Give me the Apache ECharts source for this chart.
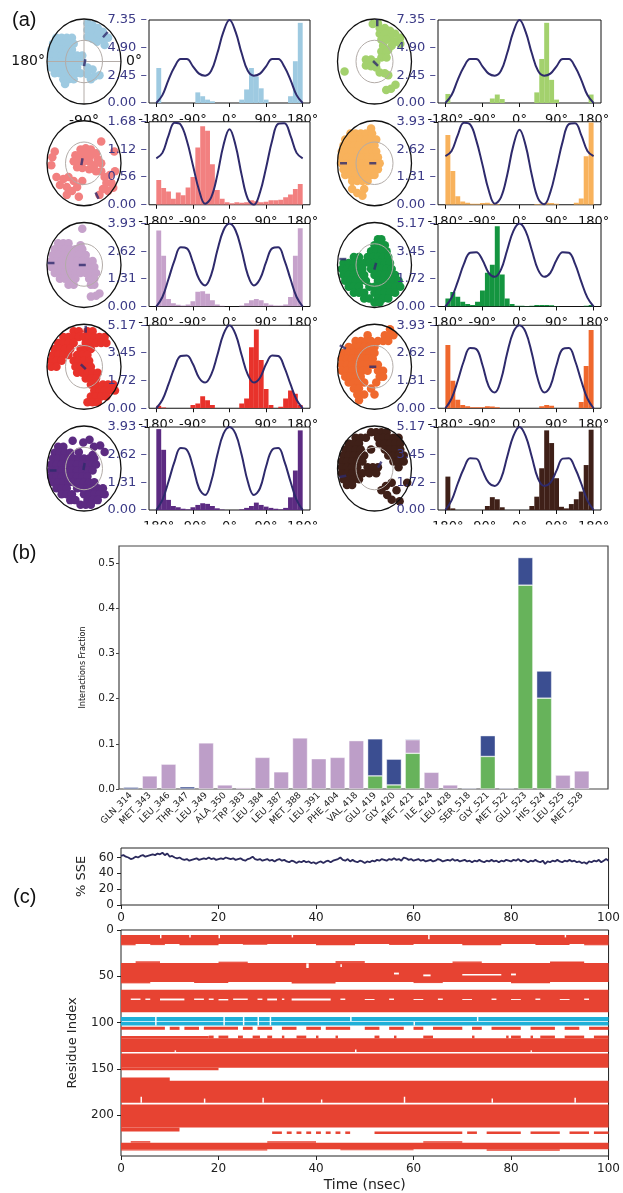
<!DOCTYPE html>
<html>
<head>
<meta charset="utf-8">
<title>Torsions, contacts and SSE</title>
<script src="https://cdn.jsdelivr.net/npm/echarts@6.0.0/dist/echarts.min.js"></script>
<style>
  html, body { margin: 0; padding: 0; background: #fff; }
  #main { width: 623px; height: 1193px; }
</style>
</head>
<body>
<div id="main"></div>
<script>
// ---------------- (a) ligand torsion profiles ----------------
// histogram bins, 12 degrees wide, left edges
var binStarts = [-180, -168, -156, -144, -132, -120, -108, -96, -84, -72, -60, -48, -36, -24, -12,
                 0, 12, 24, 36, 48, 60, 72, 84, 96, 108, 120, 132, 144, 156, 168];
var xTickDeg = [-180, -90, 0, 90, 180];
var histColors = ['#9ecae1', '#a3d16d', '#f28080', '#f8b25c', '#c6a2cb',
                  '#149540', '#e8322b', '#ef682d', '#5c2b82', '#3f2018'];
var histMax = [7.35, 7.35, 1.68, 3.93, 3.93, 5.17, 5.17, 3.93, 3.93, 5.17];

var hist1 = [3.1, 0, 0, 0, 0, 0, 0, 0, 0.94, 0.6, 0.3, 0.15, 0, 0, 0, 0, 0, 0.3, 1.2, 3.1, 2.35, 1.3, 0.3, 0, 0, 0, 0, 0.6, 3.7, 7.1];
var hist2 = [0.8, 0, 0, 0, 0, 0, 0, 0, 0, 0.4, 0.75, 0.35, 0, 0, 0, 0, 0, 0, 0.94, 3.9, 7.1, 2.05, 0.3, 0, 0, 0, 0, 0, 0, 0.75];
var hist3 = [0.5, 0.34, 0.27, 0.12, 0.25, 0.19, 0.35, 0.56, 1.16, 1.59, 1.5, 0.82, 0.3, 0.12, 0.05, 0.03, 0.05, 0.04, 0.05, 0.09, 0.07, 0.05, 0.06, 0.09, 0.09, 0.1, 0.15, 0.21, 0.32, 0.42];
var hist4 = [3.3, 1.6, 0.4, 0.15, 0.1, 0.05, 0.05, 0.08, 0.1, 0.05, 0.03, 0, 0, 0, 0, 0, 0, 0, 0.03, 0.05, 0.1, 0.08, 0.05, 0, 0, 0, 0.1, 0.3, 2.3, 3.9];
var hist5 = [3.6, 2.4, 0.35, 0.15, 0.08, 0.05, 0.1, 0.25, 0.7, 0.72, 0.6, 0.3, 0.1, 0.03, 0, 0, 0, 0.05, 0.15, 0.3, 0.35, 0.3, 0.15, 0.08, 0.05, 0.05, 0.1, 0.45, 2.4, 3.7];
var hist6 = [0.5, 0.9, 0.6, 0.3, 0.15, 0.1, 0.3, 1.0, 2.1, 2.6, 5.0, 2.0, 0.5, 0.15, 0.05, 0.05, 0.03, 0.05, 0.1, 0.1, 0.1, 0.08, 0.03, 0, 0, 0, 0, 0, 0.05, 0.1];
var hist7 = [0.15, 0.05, 0, 0, 0, 0, 0, 0.2, 0.3, 0.75, 0.5, 0.2, 0, 0, 0, 0, 0, 0.3, 0.6, 3.8, 4.9, 3.0, 1.2, 0.2, 0, 0.1, 0.6, 1.1, 0.9, 0.2];
var hist8 = [3.0, 1.3, 0.4, 0.15, 0.1, 0.05, 0.05, 0.05, 0.1, 0.08, 0.05, 0, 0, 0, 0, 0, 0, 0, 0, 0.1, 0.15, 0.12, 0, 0, 0, 0, 0, 0.3, 2.0, 3.7];
var hist9 = [3.83, 2.85, 0.48, 0.19, 0.13, 0.06, 0.03, 0.13, 0.24, 0.32, 0.29, 0.19, 0.08, 0.02, 0, 0, 0, 0.03, 0.1, 0.19, 0.35, 0.24, 0.16, 0.1, 0.06, 0.03, 0.1, 0.6, 1.87, 3.77];
var hist10 = [2.08, 0.1, 0, 0, 0, 0, 0, 0, 0.25, 0.8, 0.67, 0.17, 0, 0, 0, 0, 0, 0.25, 0.83, 2.6, 4.96, 4.17, 1.98, 0.2, 0.1, 0.37, 0.67, 1.15, 2.8, 5.0];

// potential curves, read every 15 degrees
var potAngles = [-180, -165, -150, -135, -120, -105, -90, -75, -60, -45, -30, -15, 0,
                 15, 30, 45, 60, 75, 90, 105, 120, 135, 150, 165, 180];
var potA = [0, 0.7, 2.05, 3.2, 3.9, 3.9, 3.25, 2.6, 2.42, 2.85, 4.4, 6.3, 7.35, 6.3, 4.4, 2.85, 2.42, 2.6, 3.25, 3.9, 3.9, 3.2, 2.05, 0.7, 0];
var pot3 = [0.94, 1.05, 1.4, 1.66, 1.62, 1.3, 0.8, 0.3, 0.02, 0.15, 0.6, 1.2, 1.53, 1.2, 0.6, 0.12, 0, 0.25, 0.75, 1.3, 1.64, 1.65, 1.4, 1.05, 0.94];
var pot4 = [2.3, 2.55, 3.3, 3.88, 3.8, 3.05, 1.9, 0.7, 0.05, 0.35, 1.4, 2.8, 3.55, 2.8, 1.4, 0.3, 0.02, 0.6, 1.75, 3.0, 3.82, 3.86, 3.3, 2.55, 2.3];
var pot5 = [0, 0.45, 1.3, 2.2, 2.8, 2.75, 2.1, 1.3, 1.0, 1.5, 2.65, 3.6, 3.93, 3.6, 2.65, 1.5, 1.0, 1.3, 2.1, 2.75, 2.8, 2.2, 1.3, 0.45, 0];
var pot6 = [0, 0.55, 1.55, 2.65, 3.35, 3.38, 2.9, 2.1, 1.85, 2.3, 3.5, 4.7, 5.17, 4.7, 3.5, 2.3, 1.85, 2.1, 2.9, 3.38, 3.35, 2.65, 1.55, 0.55, 0];
var pot7 = [0, 0.53, 1.5, 2.55, 3.25, 3.28, 2.75, 1.9, 1.6, 2.1, 3.3, 4.6, 5.17, 4.6, 3.3, 2.1, 1.6, 1.9, 2.75, 3.28, 3.25, 2.55, 1.5, 0.53, 0];
var pot8 = [0, 0.46, 1.3, 2.25, 2.85, 2.8, 2.05, 1.05, 0.75, 1.35, 2.6, 3.6, 3.93, 3.6, 2.6, 1.35, 0.75, 1.05, 2.05, 2.8, 2.85, 2.25, 1.3, 0.46, 0];
var pot9 = [0, 0.48, 1.35, 2.3, 2.93, 2.85, 2.06, 1.03, 0.71, 1.35, 2.6, 3.6, 3.93, 3.6, 2.6, 1.35, 0.71, 1.03, 2.06, 2.85, 2.93, 2.3, 1.35, 0.48, 0];
var pot10 = [0, 0.6, 1.65, 2.6, 3.22, 3.2, 2.45, 1.7, 1.5, 1.95, 3.3, 4.6, 5.17, 4.6, 3.3, 1.95, 1.5, 1.7, 2.45, 3.2, 3.22, 2.6, 1.65, 0.6, 0];

// radial dials: rows of [y, x, x, ...] in the unit dial (x right, y up)
var dial1 = [[0.97, 0.1], [0.92, 0.25], [0.85, 0.4], [0.8, 0.1], [0.75, 0.25, 0.55], [0.68, 0.4], [0.62, 0.1],
  [0.6, -0.8, -0.65, -0.5, -0.35, 0.7], [0.57, 0.25], [0.55, 0.55], [0.5, 0.38],
  [0.45, -0.9, -0.75, -0.6, -0.45, -0.3], [0.42, 0.6], [0.3, -0.95, -0.8, -0.65, -0.5, -0.35],
  [0.15, -0.95, -0.8, -0.65, -0.5, -0.35, -0.2, -0.05], [0, -0.95, -0.8, -0.65, -0.5, -0.35, -0.2, -0.05],
  [-0.15, -0.95, -0.8, -0.65, -0.5, -0.35, -0.2, 0.1], [-0.2, 0.25], [-0.3, -0.85, -0.7, -0.55, -0.4, -0.25, -0.1],
  [-0.32, 0.1], [-0.38, 0.3], [-0.35, 0.45], [-0.45, -0.6, -0.45, -0.3, 0.2], [-0.57, -0.55]];
var dial2 = [[0.97, 0.1], [0.95, -0.05], [0.85, 0.15, 0.3], [0.78, 0.45], [0.7, 0.15, 0.3, 0.6], [0.6, 0.45, 0.75],
  [0.55, 0.2, 0.35], [0.5, 0.6], [0.45, 0.75], [0.4, 0.25, 0.5], [0.3, 0.4], [0.25, 0.2, 0.35], [0.1, 0.2, 0.35],
  [0.05, -0.25, -0.1], [-0.02, 0.05], [-0.1, -0.25], [-0.12, -0.1], [-0.15, 0.05], [-0.28, 0.15], [-0.3, 0.3],
  [-0.35, 0.4], [-0.25, -0.87], [-0.59, 0.61], [-0.69, 0.48], [-0.72, 0.34]];
var dial3 = [[0.55, 0.5], [0.38, 0.05], [0.35, -0.1, 0.2], [0.3, 0.88, -0.85], [0.25, 0.35], [0.2, -0.25, -0.1, 0.05, 0.2],
  [0.15, -0.92], [0.1, 0.4], [0.05, -0.3, -0.15, 0, 0.15], [0, 0.5], [-0.05, -0.95, 0.3], [-0.1, -0.2], [-0.12, -0.05],
  [-0.15, 0.15], [-0.2, 0.35, 0.5, 0.9], [-0.3, 0.75], [-0.35, -0.8, -0.45, 0.6], [-0.4, -0.6], [-0.45, -0.3, -0.05],
  [-0.5, 0.65, 0.8], [-0.55, -0.7], [-0.6, -0.5, -0.2], [-0.62, 0.85], [-0.65, 0.55], [-0.7, -0.35, 0.7],
  [-0.8, -0.5, 0.45], [-0.85, -0.15]];
var dial4 = [[0.88, -0.1], [0.75, -0.7, -0.55, -0.4, -0.25, -0.07], [0.6, -0.85, -0.7, -0.55, -0.4, -0.25, -0.1, 0.05],
  [0.45, -0.9, -0.75, -0.6, -0.45, -0.3, -0.15, 0], [0.3, -0.95, -0.8, -0.65, -0.5, -0.35, -0.2, -0.05, 0.05],
  [0.15, -0.95, -0.8, -0.65, -0.5, -0.35, -0.2, -0.05, 0.1], [0, -0.95, -0.8, -0.65, -0.5, -0.35, -0.2, -0.05, 0.1, 0.15],
  [-0.15, -0.9, -0.75, -0.6, -0.45, -0.3, -0.15, 0, 0.1], [-0.3, -0.85, -0.7, -0.55, -0.4, -0.25, -0.1, 0],
  [-0.45, -0.65, -0.5, -0.35, -0.2], [-0.65, -0.65, -0.3], [-0.75, -0.5], [-0.82, -0.35]];
var dial5 = [[0.92, -0.05], [0.55, -0.75, -0.6, -0.45], [0.5, -0.1], [0.4, -0.85, -0.7, -0.55, -0.4, -0.25, -0.05],
  [0.25, -0.9, -0.75, -0.6, -0.45, -0.3, -0.15, 0.05], [0.1, -0.95, -0.8, -0.65, -0.5, -0.35, -0.2, -0.05, 0.1, 0.25],
  [-0.05, -0.95, -0.8, -0.65, -0.5, -0.35, -0.2, -0.05, 0.1, 0.25, 0.3], [-0.2, -0.85, -0.7, -0.55, -0.4, -0.25, -0.1, 0.05, 0.2, 0.35],
  [-0.35, -0.7, -0.55, -0.4, -0.25, 0.15, 0.3], [-0.5, -0.45, -0.3, 0.2, 0.3], [-0.72, 0.45], [-0.78, 0.35], [-0.8, 0.2]];
var dial6 = [[0.65, 0.1, 0.2], [0.5, 0, 0.15, 0.3], [0.35, -0.1, 0.05, 0.2, 0.35], [0.2, -0.6, -0.45, -0.2, -0.05, 0.1, 0.25, 0.4],
  [0.05, -0.9, -0.75, -0.6, -0.45, -0.3, -0.15, 0, 0.15, 0.3, 0.45], [-0.1, -0.95, -0.8, -0.65, -0.5, -0.35, -0.1, 0.05, 0.2, 0.35, 0.5],
  [-0.25, -0.9, -0.75, -0.6, -0.45, -0.3, 0, 0.15, 0.3, 0.45, 0.6], [-0.4, -0.85, -0.7, -0.55, -0.4, -0.25, 0.1, 0.25, 0.4, 0.55, 0.7],
  [-0.55, -0.75, -0.6, -0.45, -0.15, 0, 0.15, 0.3, 0.45, 0.6, 0.75], [-0.7, -0.6, -0.45, -0.3, 0, 0.15, 0.3, 0.45, 0.6],
  [-0.85, -0.3, -0.15, 0.1, 0.25, 0.4], [-0.95, 0, 0.15]];
var dial7 = [[0.9, -0.3, -0.15, 0.1, 0.25], [0.75, -0.6, -0.45, -0.3, -0.15, 0, 0.15, 0.3, 0.45, 0.6],
  [0.6, -0.75, -0.6, -0.45, -0.3, 0.05, 0.2, 0.35, 0.5, 0.65], [0.45, -0.85, -0.7, -0.55, -0.4, -0.1, 0.05, 0.2],
  [0.3, -0.9, -0.75, -0.6, -0.45, -0.2, -0.05, 0.1], [0.15, -0.95, -0.8, -0.65, -0.3, -0.15, 0, 0.15],
  [0, -0.95, -0.8, -0.25, -0.1, 0.05, 0.2], [-0.15, -0.2, -0.05, 0.1, 0.25, 0.4], [-0.3, 0.05, 0.2, 0.35],
  [-0.45, 0.2, 0.35, 0.55, 0.7, 0.85], [-0.6, 0.3, 0.45, 0.6, 0.75, 0.9], [-0.75, 0.2, 0.35, 0.5, 0.65], [-0.9, 0.1, 0.25, 0.4]];
var dial8 = [[0.95, 0.45], [0.8, -0.2, 0.3, 0.45, 0.55], [0.65, -0.55, -0.4, -0.25, -0.1, 0.1, 0.25, 0.4],
  [0.5, -0.75, -0.6, -0.45, -0.3, -0.15, 0], [0.35, -0.9, -0.75, -0.6, -0.45, -0.3, -0.15, 0],
  [0.2, -0.95, -0.8, -0.65, -0.5, -0.35, -0.2, -0.05], [0.05, -0.95, -0.8, -0.65, -0.5, -0.35, -0.2, -0.05, 0.1],
  [-0.1, -0.95, -0.8, -0.65, -0.5, -0.35, -0.2, 0.1, 0.25], [-0.25, -0.85, -0.7, -0.55, -0.4, 0.15, 0.25],
  [-0.4, -0.75, -0.6, -0.45, -0.3, 0.05], [-0.55, -0.6, -0.45, -0.1], [-0.7, -0.5, -0.3, 0], [-0.85, -0.45]];
var dial9 = [[0.73, 0.16], [0.7, -0.33], [0.66, -0.02], [0.58, 0.47], [0.55, -0.75, -0.6, 0.29], [0.42, -0.15, 0.6],
  [0.4, -0.85, -0.7, -0.55, -0.4], [0.34, 0.25], [0.25, -0.9, -0.75, -0.6, -0.45, -0.3, -0.15, 0, 0.15, 0.3],
  [0.1, -0.95, -0.8, -0.65, -0.5, -0.35, -0.2, -0.05, 0.1, 0.25, 0.35], [-0.05, -0.95, -0.8, -0.65, -0.5, -0.35, -0.2, -0.05, 0.1, 0.25],
  [-0.2, -0.95, -0.8, -0.65, -0.5, -0.35, -0.2, -0.05, 0.1], [-0.35, -0.9, -0.75, -0.6, -0.45, -0.3, -0.15, 0, 0.15, 0.3],
  [-0.5, -0.8, -0.65, -0.5, -0.2, -0.05, 0.1, 0.25, 0.4, 0.55], [-0.65, -0.65, -0.5, -0.35, 0, 0.15, 0.3, 0.45, 0.6],
  [-0.8, -0.4, -0.25, 0.1, 0.25, 0.4], [-0.92, -0.1, 0.05, 0.2]];
var dial10 = [[0.92, -0.1, 0.05, 0.2, 0.35], [0.78, -0.55, -0.4, -0.25, 0.1, 0.25, 0.4, 0.55, 0.7],
  [0.63, -0.75, -0.6, -0.45, 0.15, 0.3, 0.45, 0.6, 0.75], [0.48, -0.85, -0.7, -0.55, -0.4, -0.1, 0.3, 0.45, 0.6, 0.75],
  [0.33, -0.9, -0.75, -0.6, -0.45, -0.3, 0.4, 0.55, 0.7, 0.85], [0.18, -0.95, -0.8, -0.65, -0.5, -0.35, 0.55, 0.7, 0.85],
  [0.03, -0.95, -0.8, -0.65, -0.5, -0.2, -0.05, 0.1, 0.7], [-0.12, -0.95, -0.8, -0.65, -0.5, -0.35, -0.15, 0.05],
  [-0.27, -0.9, -0.75, -0.6, -0.45], [-0.42, -0.8, -0.65], [-0.36, 0.5, 0.95], [-0.44, 0.33], [-0.55, 0.2, 0.64],
  [-0.67, 0.37], [-0.79, 0.5], [-0.83, 0.73]];
// start / end markers: [x, y, rotation]
var dialMarks = [
  [[0.02, -0.03, 80], [0.62, 0.68, 48]],
  [[0.03, -0.05, 135], [0.08, 0.98, 90]],
  [[-0.06, 0.04, 80], [0.38, -0.82, -65]],
  [[-0.05, 0, 0], [-0.9, 0, 0]],
  [[-0.05, 0, 0], [-0.96, 0.05, 0]],
  [[0.02, -0.03, 75], [-0.92, 0.15, 0]],
  [[-0.02, 0, -45], [0.05, 0.95, 90]],
  [[-0.05, 0, 0], [-0.92, 0.5, 150]],
  [[0, 0.05, 80], [-0.9, -0.05, 0]],
  [[0.15, 0.1, 60], [-0.92, -0.2, 10]]
];

// ---------------- (b) protein-ligand contacts ----------------
var residues = ['GLN_314', 'MET_343', 'LEU_346', 'THR_347', 'LEU_349', 'ALA_350', 'TRP_383', 'LEU_384', 'LEU_387',
  'MET_388', 'LEU_391', 'PHE_404', 'VAL_418', 'GLU_419', 'GLY_420', 'MET_421', 'ILE_424', 'LEU_428', 'SER_518',
  'GLY_521', 'MET_522', 'GLU_523', 'HIS_524', 'LEU_525', 'MET_528'];
var hbonds =       [0, 0, 0, 0, 0, 0, 0, 0, 0, 0, 0, 0, 0, 0.029, 0.009, 0.079, 0, 0, 0, 0.072, 0, 0.451, 0.201, 0, 0];
var hydrophobic =  [0, 0.029, 0.055, 0, 0.102, 0.009, 0.003, 0.070, 0.038, 0.113, 0.067, 0.070, 0.107, 0, 0, 0.030, 0.037, 0.009, 0, 0, 0, 0, 0, 0.031, 0.040];
var waterBridges = [0.004, 0, 0, 0.005, 0, 0, 0, 0, 0, 0, 0, 0, 0, 0.082, 0.057, 0.002, 0, 0, 0.002, 0.046, 0.002, 0.061, 0.060, 0.001, 0];
var fracTicks = [0, 0.1, 0.2, 0.3, 0.4, 0.5];

// ---------------- (c) secondary structure ----------------
var sseTicks = [0, 20, 40, 60];
var residueTicks = [0, 50, 100, 150, 200];
// % SSE every 0.5 ns
var ssePct = [
  62, 63, 61, 60, 58, 59, 61, 60, 62, 63, 61, 62, 63, 64, 63, 65, 64, 66, 63, 65,
  61, 62, 60, 59, 60, 58, 57, 58, 56, 57, 58, 59, 57, 58, 59, 58, 60, 58, 59, 57,
  58, 59, 58, 60, 59, 58, 59, 57, 58, 59, 57, 56, 58, 59, 61, 58, 57, 58, 56, 57,
  58, 56, 57, 55, 57, 58, 56, 57, 55, 54, 56, 55, 53, 55, 54, 56, 54, 55, 53, 54,
  52, 54, 55, 53, 55, 56, 54, 56, 57, 58, 60, 57, 56, 58, 55, 57, 55, 54, 56, 55,
  53, 55, 54, 56, 55, 57, 56, 58, 57, 56, 58, 57, 59, 57, 58, 56, 60, 59, 57, 58,
  56, 57, 58, 56, 57, 55, 56, 57, 55, 56, 58, 57, 55, 56, 57, 56, 58, 56, 57, 55,
  56, 57, 55, 56, 54, 56, 55, 57, 55, 54, 56, 55, 57, 55, 56, 54, 56, 55, 57, 56,
  55, 57, 56, 58, 55, 57, 56, 54, 56, 55, 57, 55, 54, 56, 52, 55, 54, 56, 55, 57,
  55, 54, 56, 55, 57, 55, 56, 54, 55, 53, 54, 52, 55, 54, 56, 55, 57, 54, 56, 58,
  56];
// [t0, t1, residue0, residue1]
var helixRects = [
  [0, 100, 5.3, 15.2], [0, 3, 15.2, 16.5], [6, 9, 15.2, 16.3], [12, 20, 15.2, 16.4], [25, 30, 15.2, 16], [40, 48, 15.2, 16.5],
  [55, 60, 15.2, 16.2], [70, 78, 15.2, 16.4], [85, 92, 15.2, 16.3], [95, 100, 15.2, 16.5],
  [0, 100, 35.5, 56.2], [0, 100, 64.5, 88.8],
  [0, 18, 114.5, 117], [0, 100, 117, 131.6], [0, 100, 133.4, 148.6], [0, 20, 148.6, 151.5],
  [0, 10, 159.2, 163], [0, 100, 162.8, 186.6], [0, 100, 188.3, 213.2], [0, 12, 213.2, 217.5],
  [0, 100, 229.6, 236.6],
  // flickering rows
  [0, 9, 104.5, 107.8], [10, 12, 104.5, 107.8], [13, 16, 104.5, 107.8], [17, 24, 104.5, 107.8], [25, 27, 104.5, 107.8],
  [28, 31, 104.5, 107.8], [33, 36, 104.5, 107.8], [38, 41, 104.5, 107.8], [42, 47, 104.5, 107.8], [50, 53, 104.5, 107.8],
  [55, 58, 104.5, 107.8], [60, 62, 104.5, 107.8], [64, 70, 104.5, 107.8], [72, 74, 104.5, 107.8], [76, 82, 104.5, 107.8],
  [84, 89, 104.5, 107.8], [91, 94, 104.5, 107.8], [96, 100, 104.5, 107.8],
  [18, 19, 114, 117], [20, 22, 114, 117], [24, 25, 114, 117], [27, 28.5, 114, 117], [30, 31, 114, 117], [33, 33.5, 114, 117],
  [36, 38, 114, 117], [40, 40.5, 114, 117], [44, 44.5, 114, 117], [52, 53, 114, 117], [56, 56.5, 114, 117], [62, 64, 114, 117],
  [72, 72.5, 114, 117], [79, 79.5, 114, 117], [80, 82, 114, 117], [84, 84.5, 114, 117], [86, 89, 114, 117], [91, 95, 114, 117],
  [97, 100, 114, 117],
  [31, 33, 217.5, 220.2], [34, 35, 217.5, 220.2], [36, 37, 217.5, 220.2], [38, 39, 217.5, 220.2], [40, 41, 217.5, 220.2],
  [42, 43, 217.5, 220.2], [44, 45, 217.5, 220.2], [46, 47, 217.5, 220.2], [52, 70, 217.5, 220.2], [71, 73, 217.5, 220.2],
  [75, 82, 217.5, 220.2], [84, 90, 217.5, 220.2], [92, 96, 217.5, 220.2], [97, 100, 217.5, 220.2],
  // ragged edges
  [3, 8, 33.8, 35.5], [20, 26, 34.2, 35.5], [44, 50, 33.6, 35.5], [68, 74, 34, 35.5], [88, 95, 33.9, 35.5],
  [0, 6, 56.2, 57.6], [15, 22, 56.2, 57.2], [35, 44, 56.2, 57.8], [60, 66, 56.2, 57.3], [80, 88, 56.2, 57.6],
  [0, 30, 236.6, 238], [45, 60, 236.6, 237.8], [75, 90, 236.6, 238.2], [2, 6, 228, 229.6], [30, 40, 228.2, 229.6], [62, 70, 228, 229.6]
];
var strandRects = [[0, 100, 94, 98.3], [0, 100, 99.1, 103]];
var whiteGaps = [
  [2, 4, 74, 75.5], [5, 6, 74, 75.5], [8, 13, 74, 76], [15, 17, 74, 75.5], [18, 19, 74, 75.5], [20, 22, 74.5, 76],
  [23, 26, 74, 75.5], [28, 29, 74, 75.5], [30, 32, 74, 76], [33, 33.5, 74, 75.5], [35, 43, 74, 76.2], [45, 46, 74, 75.5],
  [50, 52, 74.5, 75.5], [55, 56, 74, 75.5], [60, 62, 74.5, 75.5], [65, 66, 74, 75.5], [70, 72, 74.5, 75.5], [76, 77, 74, 75.5],
  [80, 82, 74.5, 75.5], [85, 86, 74, 75.5], [90, 92, 74.5, 75.5], [95, 96, 74, 75.5],
  [56, 57, 46, 48], [62, 63.5, 48, 50], [70, 78, 47.5, 49.2], [80, 81, 47, 49], [38, 38.5, 36, 41], [45, 45.3, 37, 40],
  [8, 8.3, 5.3, 9], [14, 14.3, 5.3, 8], [20, 20.3, 5.3, 9], [35, 35.3, 5.3, 8], [63, 63.3, 5.3, 10], [91, 91.3, 5.3, 8],
  [7, 7.3, 94, 103], [21, 21.3, 94, 103], [25, 25.3, 94, 103], [28, 28.3, 94, 103], [30.5, 30.8, 94, 103], [47, 47.3, 94, 98.3],
  [60, 60.3, 99, 103], [73, 73.3, 94, 98.3],
  [4, 4.3, 180, 186.6], [17, 17.3, 182, 186.6], [29, 29.3, 181, 186.6], [41, 41.3, 183, 186.6], [58, 58.3, 180, 186.6],
  [76, 76.3, 182, 186.6], [93, 93.3, 181, 186.6], [11, 11.3, 130, 131.6], [48, 48.3, 129, 131.6], [84, 84.3, 130, 131.6]
];

// ---------------- build ----------------
var hists = [hist1, hist2, hist3, hist4, hist5, hist6, hist7, hist8, hist9, hist10];
var pots = [potA, potA, pot3, pot4, pot5, pot6, pot7, pot8, pot9, pot10];
var dials = [dial1, dial2, dial3, dial4, dial5, dial6, dial7, dial8, dial9, dial10];

var FONT = 'DejaVu Sans';
var NAVY = '#2e2a6c';
var grids = [], xAxes = [], yAxes = [], series = [], graphics = [];

function addPanel(grid, xa, ya) {
  grids.push(grid);
  var gi = grids.length - 1;
  xa.gridIndex = gi; ya.gridIndex = gi;
  xAxes.push(xa); yAxes.push(ya);
  return gi;
}
function hiddenAxis(min, max) {
  return { type: 'value', show: false, min: min, max: max, axisLine: { onZero: false } };
}
function degLabel(v) {
  return String(v) + '\u00b0';
}
function rectRenderer(color) {
  return function (params, api) {
    var a = api.coord([api.value(0), api.value(2)]);
    var b = api.coord([api.value(1), api.value(3)]);
    return {
      type: 'rect',
      shape: { x: Math.min(a[0], b[0]), y: Math.min(a[1], b[1]), width: Math.abs(b[0] - a[0]), height: Math.abs(b[1] - a[1]) },
      style: { fill: color }
    };
  };
}

// layout of panel (a)
var rowTop = [20, 121.75, 223.5, 325.25, 427], rowH = 83;
var histLeft = [149, 438], histW = [161, 163];
var dialCx = [84, 374.5], dialRx = 37, dialRy = 42.5, dotReach = 0.93;

for (var k = 0; k < 10; k++) {
  var r = Math.floor(k / 2), c = k % 2;
  var m = histMax[k];
  var yt = [0, m / 3, 2 * m / 3, m];
  var gi = addPanel(
    { left: histLeft[c], top: rowTop[r], width: histW[c], height: rowH, show: true,
      backgroundColor: '#fff', borderColor: '#111', borderWidth: 1, z: 3 },
    { type: 'value', min: -198, max: 198, z: 2, axisLine: { show: false, onZero: false }, splitLine: { show: false },
      axisTick: { customValues: xTickDeg, length: 4, lineStyle: { color: '#111' } },
      axisLabel: { customValues: xTickDeg, formatter: degLabel, fontSize: 13, color: '#111', margin: 10,
        showMinLabel: true, showMaxLabel: true, hideOverlap: false, fontFamily: FONT } },
    { type: 'value', min: 0, max: m, z: 6, axisLine: { show: false, onZero: false }, splitLine: { show: false },
      axisTick: { show: false },
      axisLabel: { customValues: yt, formatter: function (v) { return v.toFixed(2) + ' \u2013'; }, fontSize: 13,
        color: '#3b3a86', margin: 2, showMinLabel: true, showMaxLabel: true, fontFamily: FONT } }
  );
  var bars = [];
  hists[k].forEach(function (h, i) {
    if (h > 0) bars.push([binStarts[i], binStarts[i] + 12, h, 0]);
  });
  series.push({ type: 'custom', xAxisIndex: gi, yAxisIndex: gi, z: 5, silent: true, clip: true,
    encode: { x: [0, 1], y: [2, 3] }, data: bars, renderItem: rectRenderer(histColors[k]) });
  series.push({ type: 'line', xAxisIndex: gi, yAxisIndex: gi, z: 6, silent: true, smooth: 0.4,
    showSymbol: false, lineStyle: { color: NAVY, width: 2 },
    data: potAngles.map(function (a, i) { return [a, pots[k][i]]; }) });

  // dial
  var cy = rowTop[r] + rowH / 2;
  var dg = addPanel({ left: dialCx[c] - dialRx * dotReach, top: cy - dialRy * dotReach,
      width: 2 * dialRx * dotReach, height: 2 * dialRy * dotReach },
    hiddenAxis(-1, 1), hiddenAxis(-1, 1));
  var pts = [];
  dials[k].forEach(function (row) {
    for (var j = 1; j < row.length; j++) pts.push([row[j], row[0]]);
  });
  series.push({ type: 'scatter', xAxisIndex: dg, yAxisIndex: dg, z: 2, silent: true, clip: false, data: pts,
    symbolSize: 8.5, itemStyle: { color: histColors[k], opacity: 1 } });
  series.push({ type: 'scatter', xAxisIndex: dg, yAxisIndex: dg, z: 6, silent: true, clip: false, symbol: 'rect',
    symbolSize: [7, 2.5], itemStyle: { color: NAVY },
    data: dialMarks[k].map(function (p) { return { value: [p[0], p[1]], symbolRotate: p[2] }; }) });
  graphics.push({ type: 'ellipse', z: 1, silent: true,
    shape: { cx: dialCx[c], cy: cy, rx: dialRx, ry: dialRy }, style: { fill: '#fff' } });
  graphics.push({ type: 'ellipse', z: 3, silent: true,
    shape: { cx: dialCx[c], cy: cy, rx: dialRx / 2, ry: dialRy / 2 }, style: { fill: 'none', stroke: '#b3aca8', lineWidth: 1 } });
  graphics.push({ type: 'ellipse', z: 4, silent: true,
    shape: { cx: dialCx[c], cy: cy, rx: dialRx, ry: dialRy }, style: { fill: 'none', stroke: '#111', lineWidth: 1.3 } });
  if (k === 0) {
    graphics.push({ type: 'line', z: 3, silent: true, shape: { x1: dialCx[c], y1: cy - dialRy, x2: dialCx[c], y2: cy + dialRy },
      style: { stroke: '#b3aca8', lineWidth: 1 } });
    graphics.push({ type: 'line', z: 3, silent: true, shape: { x1: dialCx[c] - dialRx, y1: cy, x2: dialCx[c] + dialRx, y2: cy },
      style: { stroke: '#b3aca8', lineWidth: 1 } });
    graphics.push({ type: 'text', z: 4, x: dialCx[c] - dialRx - 2, y: cy, style: { text: '180\u00b0', fontSize: 14, fontFamily: FONT,
      fill: '#111', align: 'right', textAlign: 'right', verticalAlign: 'middle', textVerticalAlign: 'middle' } });
    graphics.push({ type: 'text', z: 4, x: dialCx[c] + dialRx + 5, y: cy, style: { text: '0\u00b0', fontSize: 14, fontFamily: FONT,
      fill: '#111', align: 'left', textAlign: 'left', verticalAlign: 'middle', textVerticalAlign: 'middle' } });
    graphics.push({ type: 'text', z: 0, x: dialCx[c], y: cy + dialRy + 10, style: { text: '-90\u00b0', fontSize: 14, fontFamily: FONT,
      fill: '#111', align: 'center', textAlign: 'center', verticalAlign: 'top', textVerticalAlign: 'top' } });
  }
}
// crop line under the last row of tick labels
graphics.push({ type: 'rect', z: 2.5, silent: true, shape: { x: 130, y: 524.5, width: 493, height: 16 }, style: { fill: '#fff' } });

// panel (b)
var fracMax = 0.5376;
addPanel({ left: 119, top: 546, width: 489, height: 243, show: true, borderColor: '#444', borderWidth: 1.2, z: 3 },
  hiddenAxis(0, 1),
  { type: 'value', min: 0, max: fracMax, z: 4, axisLine: { show: false, onZero: false }, splitLine: { show: false },
    name: 'Interactions Fraction', nameLocation: 'middle', nameRotate: 90, nameGap: 22,
    nameTextStyle: { fontSize: 8, color: '#111', fontFamily: FONT },
    axisTick: { customValues: fracTicks, length: 3, lineStyle: { color: '#444' } },
    axisLabel: { customValues: fracTicks, formatter: function (v) { return v.toFixed(1); }, fontSize: 10.5,
      color: '#222', margin: 4, fontFamily: FONT } });
var bg = addPanel({ left: 121.6, top: 546, width: 469.5, height: 243 },
  { type: 'category', data: residues, z: 4, axisLine: { show: false, onZero: false },
    axisTick: { alignWithLabel: true, length: 3, lineStyle: { color: '#444' } },
    axisLabel: { interval: 0, rotate: 45, fontSize: 9, color: '#222', margin: 5, fontFamily: FONT } },
  hiddenAxis(0, fracMax));
[[hbonds, '#67b35b'], [hydrophobic, '#bd9ec8'], [waterBridges, '#3b4e91']].forEach(function (s) {
  series.push({ type: 'bar', xAxisIndex: bg, yAxisIndex: bg, stack: 'contacts', z: 5, silent: true,
    barCategoryGap: '20%', itemStyle: { color: s[1], borderColor: 'rgba(255,255,255,0.7)', borderWidth: 0.6 },
    data: s[0].map(function (v) { return v > 0 ? v : '-'; }) });
});

// panel (c) top: % SSE
var sg = addPanel({ left: 121, top: 848, width: 490, height: 57, show: true, borderColor: '#222', borderWidth: 1, z: 3 },
  { type: 'value', min: 0, max: 100, interval: 20, z: 4, axisLine: { show: false, onZero: false }, splitLine: { show: false },
    axisTick: { length: 4, lineStyle: { color: '#222' } },
    axisLabel: { fontSize: 12, color: '#222', margin: 7, fontFamily: FONT } },
  { type: 'value', min: 0, max: 72, z: 4, axisLine: { show: false, onZero: false }, splitLine: { show: false },
    name: '% SSE', nameLocation: 'middle', nameRotate: 90, nameGap: 32,
    nameTextStyle: { fontSize: 13, color: '#222', fontFamily: FONT },
    axisTick: { customValues: sseTicks, length: 4, lineStyle: { color: '#222' } },
    axisLabel: { customValues: sseTicks, fontSize: 12, color: '#222', margin: 7, fontFamily: FONT } });
series.push({ type: 'line', xAxisIndex: sg, yAxisIndex: sg, z: 5, silent: true, showSymbol: false,
  lineStyle: { color: '#2b2a5c', width: 1.8 },
  data: ssePct.map(function (v, i) { return [i * 0.5, v]; }) });

// panel (c) bottom: SSE per residue
var rg = addPanel({ left: 121, top: 930, width: 490, height: 229, show: true, borderColor: '#222', borderWidth: 1, z: 3 },
  { type: 'value', min: 0, max: 100, interval: 20, z: 4, axisLine: { show: false, onZero: false }, splitLine: { show: false },
    name: 'Time (nsec)', nameLocation: 'middle', nameGap: 22,
    nameTextStyle: { fontSize: 14, color: '#222', fontFamily: FONT },
    axisTick: { length: 4, lineStyle: { color: '#222' } },
    axisLabel: { fontSize: 12, color: '#222', margin: 7, fontFamily: FONT } },
  { type: 'value', min: 0, max: 244, inverse: true, z: 4, axisLine: { show: false, onZero: false }, splitLine: { show: false },
    name: 'Residue Index', nameLocation: 'middle', nameRotate: 90, nameGap: 42,
    nameTextStyle: { fontSize: 13, color: '#222', fontFamily: FONT },
    axisTick: { customValues: residueTicks, length: 4, lineStyle: { color: '#222' } },
    axisLabel: { customValues: residueTicks, fontSize: 12, color: '#222', margin: 7, fontFamily: FONT } });
[[helixRects, '#e74332', 4], [strandRects, '#1fb0d8', 4], [whiteGaps, '#ffffff', 5]].forEach(function (s) {
  series.push({ type: 'custom', xAxisIndex: rg, yAxisIndex: rg, z: s[2], silent: true, clip: true,
    encode: { x: [0, 1], y: [2, 3] }, data: s[0], renderItem: rectRenderer(s[1]) });
});

// panel letters
[['(a)', 12, 10], ['(b)', 12, 543], ['(c)', 13, 887]].forEach(function (t) {
  graphics.push({ type: 'text', z: 10, x: t[1], y: t[2], style: { text: t[0], fontSize: 20, fontFamily: 'Liberation Sans',
    fill: '#111', align: 'left', textAlign: 'left', verticalAlign: 'top', textVerticalAlign: 'top' } });
});

var chart = echarts.init(document.getElementById('main'));
chart.setOption({
  animation: false,
  backgroundColor: '#fff',
  textStyle: { fontFamily: FONT },
  grid: grids,
  xAxis: xAxes,
  yAxis: yAxes,
  series: series,
  graphic: { elements: graphics }
});
</script>
</body>
</html>
